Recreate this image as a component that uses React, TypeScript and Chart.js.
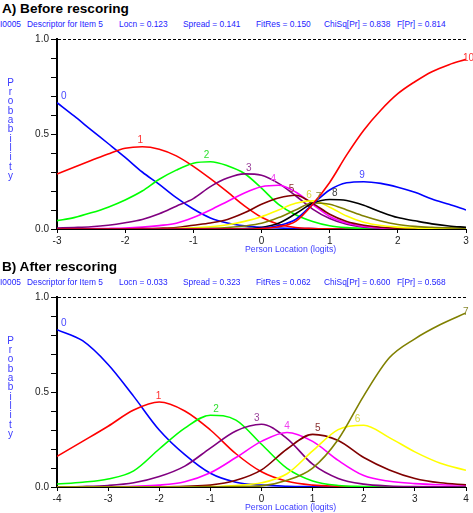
import React, { useEffect, useRef } from 'react';
import { Chart, registerables } from 'chart.js';

Chart.register(...registerables);

const FONT = '"Liberation Sans", Arial, Helvetica, sans-serif';

// ---------- Panel A: Before rescoring (categories 0..10) ----------
const titleA = 'A) Before rescoring';
const subtitleA = ['I0005', 'Descriptor for Item 5', 'Locn = 0.123', 'Spread = 0.141', 'FitRes = 0.150', 'ChiSq[Pr] = 0.838', 'F[Pr] = 0.814'];
const xTicksA = [-3, 3];
const locationsA = [-3, -2.75, -2.5, -2.25, -2, -1.75, -1.5, -1.25, -1, -0.75, -0.5, -0.25, 0, 0.25, 0.5, 0.75, 1, 1.25, 1.5, 1.75, 2, 2.25, 2.5, 2.75, 3];
const categoriesA = ['0', '1', '2', '3', '4', '5', '6', '7', '8', '9', '10'];
const cat0A = [0.665, 0.595, 0.522, 0.45, 0.377, 0.3, 0.235, 0.165, 0.105, 0.058, 0.032, 0.017, 0.009, 0.005, 0.003, 0.002, 0.001, 0.001, 0, 0, 0, 0, 0, 0, 0];
const cat1A = [0.289, 0.325, 0.36, 0.395, 0.425, 0.433, 0.42, 0.385, 0.33, 0.265, 0.195, 0.122, 0.062, 0.025, 0.008, 0.003, 0.001, 0, 0, 0, 0, 0, 0, 0, 0];
const cat2A = [0.044, 0.06, 0.085, 0.115, 0.153, 0.2, 0.262, 0.31, 0.346, 0.354, 0.333, 0.292, 0.215, 0.13, 0.075, 0.04, 0.017, 0.007, 0.003, 0.001, 0, 0, 0, 0, 0];
const cat3A = [0.005, 0.008, 0.012, 0.02, 0.033, 0.05, 0.08, 0.12, 0.16, 0.223, 0.268, 0.29, 0.283, 0.24, 0.175, 0.105, 0.055, 0.025, 0.01, 0.004, 0.002, 0.001, 0, 0, 0];
const cat4A = [0.001, 0.001, 0.002, 0.003, 0.005, 0.01, 0.018, 0.03, 0.06, 0.1, 0.145, 0.19, 0.222, 0.23, 0.195, 0.13, 0.066, 0.032, 0.014, 0.006, 0.002, 0.001, 0, 0, 0];
const cat5A = [0, 0, 0, 0.001, 0.001, 0.002, 0.004, 0.008, 0.02, 0.032, 0.05, 0.085, 0.13, 0.163, 0.178, 0.135, 0.078, 0.04, 0.02, 0.009, 0.004, 0.002, 0.001, 0, 0];
const cat6A = [0, 0, 0, 0, 0, 0, 0.001, 0.003, 0.006, 0.012, 0.022, 0.04, 0.065, 0.1, 0.135, 0.148, 0.115, 0.068, 0.035, 0.018, 0.01, 0.005, 0.002, 0.001, 0];
const cat7A = [0, 0, 0, 0, 0, 0, 0, 0.001, 0.002, 0.004, 0.008, 0.016, 0.03, 0.06, 0.1, 0.137, 0.13, 0.1, 0.068, 0.042, 0.024, 0.014, 0.009, 0.006, 0.004];
const cat8A = [0, 0, 0, 0, 0, 0, 0, 0, 0, 0.001, 0.001, 0.003, 0.008, 0.03, 0.08, 0.135, 0.155, 0.15, 0.125, 0.09, 0.06, 0.043, 0.027, 0.016, 0.009];
const cat9A = [0, 0, 0, 0, 0, 0, 0, 0, 0, 0, 0, 0.001, 0.004, 0.018, 0.05, 0.13, 0.205, 0.243, 0.249, 0.24, 0.22, 0.193, 0.158, 0.13, 0.1];
const cat10A = [0, 0, 0, 0, 0, 0, 0, 0, 0, 0, 0, 0, 0.003, 0.012, 0.04, 0.13, 0.245, 0.39, 0.52, 0.625, 0.712, 0.775, 0.828, 0.865, 0.893];
const seriesA = [cat0A, cat1A, cat2A, cat3A, cat4A, cat5A, cat6A, cat7A, cat8A, cat9A, cat10A];
const lineColorsA = ['#0000ff', '#ff0000', '#00ff00', '#800080', '#ff00ff', '#800000', '#ffff00', '#808000', '#000000', '#0000ff', '#ff0000'];
const labelColorsA = ['#4848ff', '#ff3030', '#30e030', '#9a409a', '#f040f0', '#8a3030', '#d8d840', '#8a8a30', '#404040', '#4848ff', '#ff3030'];

// ---------- Panel B: After rescoring (categories 0..7) ----------
const titleB = 'B) After rescoring';
const subtitleB = ['I0005', 'Descriptor for Item 5', 'Locn = 0.033', 'Spread = 0.323', 'FitRes = 0.062', 'ChiSq[Pr] = 0.600', 'F[Pr] = 0.568'];
const xTicksB = [-4, 4];
const locationsB = [-4, -3.5, -3, -2.5, -2, -1.5, -1, -0.5, 0, 0.5, 1, 1.5, 2, 2.5, 3, 3.5, 4];
const categoriesB = ['0', '1', '2', '3', '4', '5', '6', '7'];
const cat0B = [0.828, 0.77, 0.645, 0.477, 0.3, 0.17, 0.072, 0.025, 0.01, 0.004, 0.002, 0.001, 0, 0, 0, 0, 0];
const cat1B = [0.161, 0.24, 0.32, 0.405, 0.447, 0.4, 0.3, 0.175, 0.08, 0.03, 0.01, 0.004, 0.001, 0, 0, 0, 0];
const cat2B = [0.016, 0.025, 0.042, 0.085, 0.2, 0.31, 0.378, 0.352, 0.225, 0.098, 0.032, 0.008, 0.003, 0.001, 0, 0, 0];
const cat3B = [0.001, 0.003, 0.008, 0.022, 0.055, 0.11, 0.205, 0.295, 0.33, 0.255, 0.12, 0.045, 0.015, 0.005, 0.002, 0.001, 0];
const cat4B = [0, 0, 0.001, 0.004, 0.01, 0.028, 0.075, 0.155, 0.24, 0.287, 0.24, 0.14, 0.06, 0.03, 0.018, 0.012, 0.01];
const cat5B = [0, 0, 0, 0, 0.001, 0.004, 0.01, 0.035, 0.09, 0.2, 0.277, 0.245, 0.155, 0.09, 0.045, 0.022, 0.012];
const cat6B = [0, 0, 0, 0, 0, 0, 0.002, 0.008, 0.022, 0.07, 0.19, 0.302, 0.325, 0.26, 0.185, 0.125, 0.088];
const cat7B = [0, 0, 0, 0, 0, 0, 0.001, 0.002, 0.006, 0.035, 0.1, 0.25, 0.48, 0.68, 0.78, 0.855, 0.916];
const seriesB = [cat0B, cat1B, cat2B, cat3B, cat4B, cat5B, cat6B, cat7B];
const lineColorsB = ['#0000ff', '#ff0000', '#00ff00', '#800080', '#ff00ff', '#800000', '#ffff00', '#808000'];
const labelColorsB = ['#4848ff', '#ff3030', '#30e030', '#9a409a', '#f040f0', '#8a3030', '#d8d840', '#8a8a30'];

const yAxisLabel = 'Probability';
const xAxisLabel = 'Person Location (logits)';

const SUB_LEFT = [0, 27, 119, 183, 256, 324, 397];

const peakLabelPlugin = {
  id: 'peakLabels',
  afterDatasetsDraw(chart: any) {
    const ctx = chart.ctx;
    const xs = chart.scales.x;
    const ys = chart.scales.y;
    ctx.save();
    ctx.font = `10px ${FONT}`;
    chart.data.datasets.forEach((ds: any) => {
      const pts = ds.data as { x: number; y: number }[];
      let m = 0;
      pts.forEach((p, i) => { if (p.y > pts[m].y) m = i; });
      ctx.fillStyle = ds.labelColor;
      const py = ys.getPixelForValue(pts[m].y);
      if (m === 0) {
        ctx.textAlign = 'left';
        ctx.textBaseline = 'bottom';
        ctx.fillText(ds.label, xs.getPixelForValue(pts[0].x) + 4, py - 1);
      } else if (m === pts.length - 1) {
        ctx.textAlign = 'left';
        ctx.textBaseline = 'middle';
        ctx.fillText(ds.label, xs.getPixelForValue(pts[m].x) - 3, py - 1);
      } else {
        const y0 = pts[m - 1].y, y1 = pts[m].y, y2 = pts[m + 1].y;
        const den = y0 - 2 * y1 + y2;
        const d = den !== 0 ? (0.5 * (y0 - y2)) / den : 0;
        const xPeak = pts[m].x + d * (pts[m + 1].x - pts[m].x);
        ctx.textAlign = 'center';
        ctx.textBaseline = 'bottom';
        ctx.fillText(ds.label, xs.getPixelForValue(xPeak), py - 1);
      }
    });
    ctx.restore();
  },
};

type PanelProps = {
  top: number;
  title: string;
  subtitle: string[];
  xRange: number[];
  locations: number[];
  names: string[];
  series: number[][];
  colors: string[];
  labelColors: string[];
};

function Panel({ top, title, subtitle, xRange, locations, names, series, colors, labelColors }: PanelProps) {
  const ref = useRef<HTMLCanvasElement>(null);
  useEffect(() => {
    const n = series.length;
    const tickFont = { size: 10, family: FONT };
    const chart = new Chart(ref.current as HTMLCanvasElement, {
      type: 'line',
      data: {
        datasets: series.map((vals, i) => ({
          label: names[i],
          data: vals.map((v, j) => ({ x: locations[j], y: v })),
          borderColor: colors[i],
          backgroundColor: colors[i],
          borderWidth: 1.6,
          pointRadius: 0,
          fill: false,
          cubicInterpolationMode: 'monotone',
          order: n - i,
          labelColor: labelColors[i],
        })) as any,
      },
      options: {
        responsive: false,
        animation: false,
        events: [],
        layout: { padding: { top: 39, right: 7, left: 0, bottom: 0 } },
        plugins: {
          legend: { display: false },
          tooltip: { enabled: false },
          title: { display: false },
        },
        scales: {
          x: {
            type: 'linear',
            min: xRange[0],
            max: xRange[1],
            ticks: {
              stepSize: 1,
              autoSkip: false,
              maxRotation: 0,
              color: '#222',
              font: tickFont,
              padding: 2,
              callback: (v: any) => String(v),
            },
            grid: { drawOnChartArea: false, tickLength: 4, tickColor: '#000', tickWidth: 1 },
            border: { color: '#000', width: 1 },
            afterFit: (s: any) => { s.height = 26; },
          },
          y: {
            type: 'linear',
            min: 0,
            max: 1,
            ticks: {
              stepSize: 0.1,
              autoSkip: false,
              color: '#222',
              font: tickFont,
              padding: 2,
              callback: (v: any) => (Math.abs(v * 2 - Math.round(v * 2)) < 1e-6 ? Number(v).toFixed(1) : ''),
            },
            grid: {
              drawOnChartArea: true,
              color: (c: any) => (c.tick && Math.abs(c.tick.value - 1) < 1e-6 ? '#000' : 'rgba(0,0,0,0)'),
              lineWidth: 1,
              tickLength: 6,
              tickColor: '#000',
              tickWidth: 1,
            },
            border: { color: '#000', width: 2, dash: [3, 2] },
            afterFit: (s: any) => { s.width = 57; },
          },
        },
      } as any,
      plugins: [peakLabelPlugin],
    });
    return () => chart.destroy();
  }, []);

  return (
    <>
      <div style={{ position: 'absolute', left: 2, top: top + 1.8, font: `bold 13.6px ${FONT}`, lineHeight: '13.6px', whiteSpace: 'nowrap', color: '#000' }}>{title}</div>
      {subtitle.map((s, i) => (
        <div key={i} style={{ position: 'absolute', left: SUB_LEFT[i], top: top + 19.6, font: `8.4px ${FONT}`, lineHeight: '8.4px', whiteSpace: 'nowrap', color: '#2424ff' }}>{s}</div>
      ))}
      <canvas ref={ref} width={473} height={255} style={{ position: 'absolute', left: 0, top, width: 473, height: 255 }} />
      <div style={{ position: 'absolute', left: 0, width: 21, top: top + 77.9, font: `10px ${FONT}`, lineHeight: '9.3px', whiteSpace: 'pre', textAlign: 'center', color: '#3a3aff' }}>{yAxisLabel.split('').join('\n')}</div>
      <div style={{ position: 'absolute', left: 245, top: top + 245.1, font: `8.7px ${FONT}`, lineHeight: '8.7px', whiteSpace: 'nowrap', color: '#3a3aff' }}>{xAxisLabel}</div>
    </>
  );
}

export default function App() {
  return (
    <div style={{ position: 'absolute', left: 0, top: 0, width: 473, height: 513, overflow: 'hidden', background: '#fff' }}>
      <Panel top={0} title={titleA} subtitle={subtitleA} xRange={xTicksA} locations={locationsA} names={categoriesA} series={seriesA} colors={lineColorsA} labelColors={labelColorsA} />
      <Panel top={258} title={titleB} subtitle={subtitleB} xRange={xTicksB} locations={locationsB} names={categoriesB} series={seriesB} colors={lineColorsB} labelColors={labelColorsB} />
    </div>
  );
}
